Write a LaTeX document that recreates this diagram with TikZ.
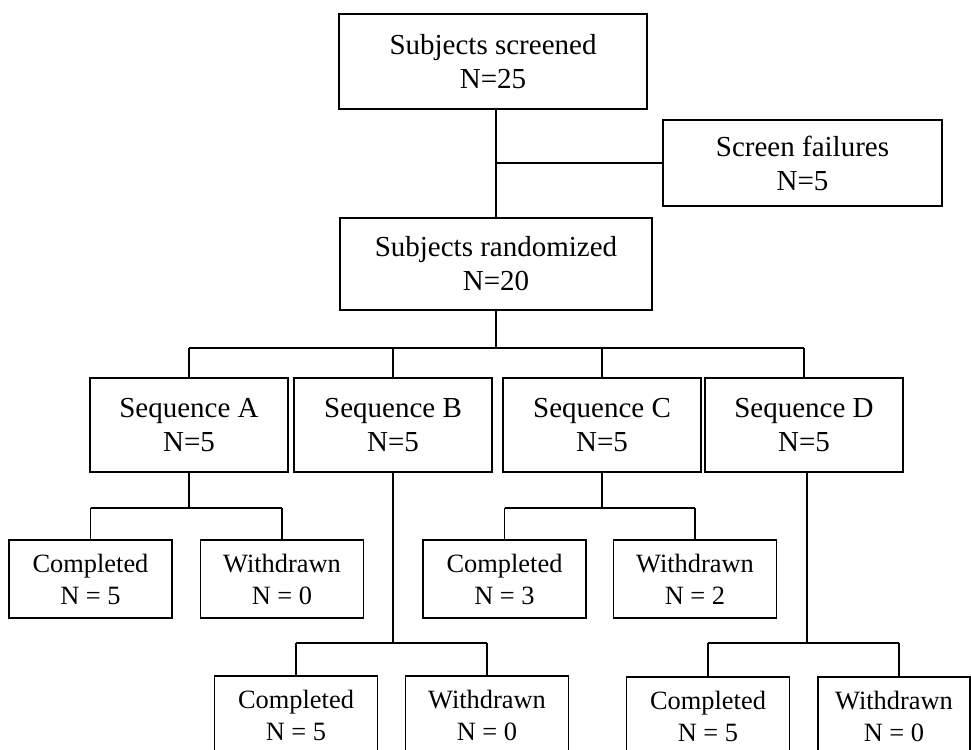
\documentclass[tikz,border=0pt]{standalone}
\usepackage{fontspec}
\setmainfont{Liberation Serif}
\newcommand\bigfs{\fontsize{29}{34}\selectfont}
\newcommand\smallfs{\fontsize{26.4}{32}\selectfont}
\begin{document}
\begin{tikzpicture}[x=1pt,y=-1pt,
  bigbox/.style={draw, line width=1.5pt, inner sep=0pt, align=center, font=\bigfs},
  smallbox/.style={draw, line width=1.5pt, inner sep=0pt, align=center, font=\smallfs,
    minimum width=163pt, minimum height=78pt},
  seqbox/.style={bigbox, minimum width=198pt, minimum height=94pt},
  link/.style={line width=1.5pt}]
\useasboundingbox (0,0) rectangle (971,749);
\fill[white] (0,0) rectangle (971,749);
\clip (0,0) rectangle (971,749);

\node[bigbox, minimum width=308pt, minimum height=95pt] (screened) at (493,61.5) {Subjects screened\\N=25};
\node[bigbox, minimum width=279pt, minimum height=86pt] (fail) at (802.5,163) {Screen failures\\N=5};
\node[bigbox, minimum width=312pt, minimum height=92pt] (rand) at (496,264) {Subjects randomized\\N=20};

\node[seqbox] (seqA) at (189,425) {Sequence A\\N=5};
\node[seqbox] (seqB) at (393,425) {Sequence B\\N=5};
\node[seqbox] (seqC) at (602,425) {Sequence C\\N=5};
\node[seqbox] (seqD) at (804,425) {Sequence D\\N=5};

\node[smallbox] (compA) at (90.5,579) {Completed\\N = 5};
\node[smallbox] (wdA) at (282,579) {Withdrawn\\N = 0};
\node[smallbox] (compC) at (504.5,579) {Completed\\N = 3};
\node[smallbox] (wdC) at (695,579) {Withdrawn\\N = 2};
\node[smallbox] (compB) at (296,715) {Completed\\N = 5};
\node[smallbox] (wdB) at (487,715) {Withdrawn\\N = 0};
\node[smallbox] (compD) at (708,716) {Completed\\N = 5};
\node[smallbox, minimum width=152pt] (wdD) at (894,716) {Withdrawn\\N = 0};

\coordinate (bus) at (496,348);
\coordinate (busAC) at (0,508);
\coordinate (busBD) at (0,643);

% top trunk
\draw[link] (rand.north) -- (rand.north |- screened.south);
\draw[link] (rand.north |- fail.west) -- (fail.west);
\draw[link] (rand.south) -- (bus);
\draw[link] (seqA.north |- bus) -- (seqD.north |- bus);
\foreach \s in {seqA,seqB,seqC,seqD}
  \draw[link] (\s.north) -- (\s.north |- bus);

% Sequence A
\draw[link] (seqA.south) -- (seqA.south |- busAC);
\draw[link] (compA.north |- busAC) -- (wdA.north |- busAC);
\draw[link] (compA.north) -- (compA.north |- busAC);
\draw[link] (wdA.north) -- (wdA.north |- busAC);

% Sequence C
\draw[link] (seqC.south) -- (seqC.south |- busAC);
\draw[link] (compC.north |- busAC) -- (wdC.north |- busAC);
\draw[link] (compC.north) -- (compC.north |- busAC);
\draw[link] (wdC.north) -- (wdC.north |- busAC);

% Sequence B
\draw[link] (seqB.south) -- (seqB.south |- busBD);
\draw[link] (compB.north |- busBD) -- (wdB.north |- busBD);
\draw[link] (compB.north) -- (compB.north |- busBD);
\draw[link] (wdB.north) -- (wdB.north |- busBD);

% Sequence D
\coordinate (dtop) at (807,472);
\draw[link] (dtop) -- (dtop |- busBD);
\draw[link] (compD.north |- busBD) -- ([xshift=5pt]wdD.north |- busBD);
\draw[link] (compD.north) -- (compD.north |- busBD);
\draw[link] ([xshift=5pt]wdD.north) -- ([xshift=5pt]wdD.north |- busBD);
\end{tikzpicture}
\end{document}
